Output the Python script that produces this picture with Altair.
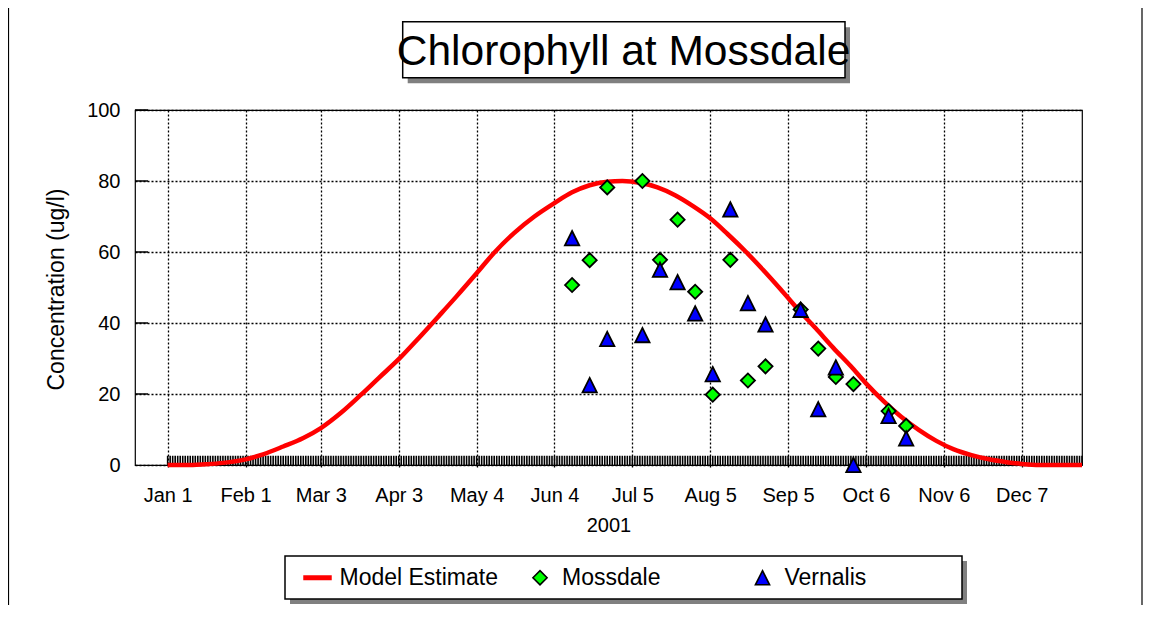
import altair as alt
import pandas as pd

FONT = "Liberation Sans"

# ---- data ----
sample_dates = ["2001-06-11", "2001-06-18", "2001-06-25", "2001-07-09", "2001-07-16",
                "2001-07-23", "2001-07-30", "2001-08-06", "2001-08-13", "2001-08-20",
                "2001-08-27", "2001-09-10", "2001-09-17", "2001-09-24", "2001-10-01",
                "2001-10-15", "2001-10-22"]
mossdale = [50.7, 57.7, 78.2, 80.0, 57.8, 69.1, 48.8, 19.8, 57.8, 23.8,
            27.8, 43.8, 32.8, 24.8, 22.8, 15.2, 11.0]
vernalis = [63.9, 22.5, 35.5, 36.6, 55.0, 51.5, 42.7, 25.6, 72.0, 45.6,
            39.6, 43.7, 15.7, 27.5, 0.0, 13.8, 7.5]

# model estimate (day of year, ug/l)
model_days = [0, 10, 15, 22, 31, 38, 46, 54, 61, 69, 77, 84, 92, 100, 108, 115, 123,
              130, 138, 146, 154, 161, 168, 175, 181, 188, 195, 202, 209, 216, 223,
              230, 237, 244, 251, 258, 265, 272, 278, 285, 292, 299, 306, 313, 320,
              327, 334, 340, 347, 364]
model_values = [0, 0, 0.2, 0.6, 1.6, 3.0, 5.2, 7.6, 10.4, 14.7, 19.8, 24.5, 29.8, 35.8,
                42.0, 47.5, 54.0, 59.8, 65.4, 70.0, 73.8, 76.8, 78.8, 79.8, 80.0, 79.5,
                78.2, 76.0, 73.0, 69.5, 65.0, 60.2, 55.0, 49.5, 43.8, 38.5, 33.0, 27.8,
                23.0, 18.0, 13.6, 9.9, 6.8, 4.4, 2.8, 1.6, 0.8, 0.3, 0, 0]

tick_days = [0, 31, 61, 92, 123, 154, 185, 216, 247, 278, 309, 340]
tick_labels = ["Jan 1", "Feb 1", "Mar 3", "Apr 3", "May 4", "Jun 4", "Jul 5",
               "Aug 5", "Sep 5", "Oct 6", "Nov 6", "Dec 7"]
y_ticks = [0, 20, 40, 60, 80, 100]

series_names = ["Model Estimate", "Mossdale", "Vernalis"]
series_fill = ["#ff0000", "#00ff00", "#0000ff"]
series_stroke = ["#ff0000", "#000000", "#000000"]
series_shape = ["M-1.9,-0.25H1.9V0.25H-1.9Z", "diamond", "M0,-1L1,1L-1,1Z"]

# ---- frames ----
day_of_year = list((pd.to_datetime(sample_dates) - pd.Timestamp("2001-01-01")).days)
model_df = pd.DataFrame({"day": model_days, "value": model_values})
moss_df = pd.DataFrame({"day": day_of_year, "value": mossdale, "series": "Mossdale"})
vern_df = pd.DataFrame({"day": day_of_year, "value": vernalis, "series": "Vernalis"})
daily_df = pd.DataFrame({"day": list(range(0, 365))})
daily_df["value"] = 0.0
daily_df["top"] = 2.6
ytick_df = pd.DataFrame({"value": y_ticks[1:]})
one = pd.DataFrame({"k": [0]})

days_js = "[" + ",".join(str(d) for d in tick_days) + "]"
labs_js = "[" + ",".join("'" + s + "'" for s in tick_labels) + "]"

x_scale = alt.Scale(domain=[-13, 364], nice=False, zero=False)
y_scale = alt.Scale(domain=[0, 100], nice=False)

x_axis = alt.Axis(values=tick_days, labelExpr=labs_js + "[indexof(" + days_js + ", datum.value)]",
                  title="2001", grid=True, gridColor="black", gridDash=[2, 2], gridWidth=1.3,
                  gridOpacity=1, domain=False, ticks=True, tickSize=4, tickColor="black",
                  tickDash=[2, 2], tickWidth=1.3, labelPadding=16.5, labelFontSize=20,
                  labelFont=FONT, labelColor="black", titleFont=FONT, titleFontSize=20,
                  titleFontWeight="normal", titleColor="black", titleY=66.5,
                  titleBaseline="alphabetic")
y_axis = alt.Axis(values=y_ticks, title="Concentration (ug/l)", grid=True, gridColor="black",
                  gridDash=[2, 2], gridWidth=1.3, gridOpacity=1, domain=False, ticks=False,
                  labelPadding=15, labelFontSize=20, labelFont=FONT, labelColor="black",
                  titleFont=FONT, titleFontSize=23, titleFontWeight="normal",
                  titleColor="black", titleX=-78.5, titleY=179, titleAngle=270,
                  titleBaseline="middle", titleAlign="center")

X = alt.X("day:Q", scale=x_scale, axis=x_axis)
Y = alt.Y("value:Q", scale=y_scale, axis=y_axis)

legend = alt.Legend(title=None, orient="none", legendX=171, legendY=456,
                    direction="horizontal", columns=3, gridAlign="all", columnPadding=29.5,
                    symbolSize=200, symbolStrokeWidth=1.6, symbolOpacity=1,
                    labelFontSize=23, labelFont=FONT, labelColor="black", labelOffset=10.5,
                    padding=0)
fill_enc = alt.Fill("series:N", scale=alt.Scale(domain=series_names, range=series_fill), legend=legend)
stroke_enc = alt.Stroke("series:N", scale=alt.Scale(domain=series_names, range=series_stroke), legend=legend)
shape_enc = alt.Shape("series:N", scale=alt.Scale(domain=series_names, range=series_shape), legend=legend)

daily_ticks = alt.Chart(daily_df).mark_rule(color="black", strokeWidth=1.6).encode(
    x=X, y=Y, y2="top:Q")
inner_ticks = alt.Chart(ytick_df).mark_rule(color="black", strokeWidth=1.5).encode(
    y=Y, x=alt.value(0), x2=alt.value(13))
model = alt.Chart(model_df).mark_line(color="#ff0000", strokeWidth=4.5,
                                      interpolate="monotone").encode(x=X, y=Y)
moss = alt.Chart(moss_df).mark_point(filled=True, size=200, strokeWidth=1.8, opacity=1).encode(
    x=X, y=Y, fill=fill_enc, stroke=stroke_enc, shape=shape_enc)
vern = alt.Chart(vern_df).mark_point(filled=True, size=205, strokeWidth=1.8, opacity=1).encode(
    x=X, y=Y, fill=fill_enc, stroke=stroke_enc, shape=shape_enc)

# title box with shadow
title_shadow = alt.Chart(one).mark_rect(color="#808080").encode(
    x=alt.value(272.7), x2=alt.value(715), y=alt.value(-82.7), y2=alt.value(-26.7))
title_box = alt.Chart(one).mark_rect(fill="white", stroke="black", strokeWidth=1.5).encode(
    x=alt.value(267.7), x2=alt.value(710), y=alt.value(-88.3), y2=alt.value(-32.3))
title_text = alt.Chart(one).mark_text(text="Chlorophyll at Mossdale", font=FONT, fontSize=42.5,
                                      align="center", baseline="alphabetic", color="black").encode(
    x=alt.value(488.5), y=alt.value(-45))

# legend box with shadow
legend_shadow = alt.Chart(one).mark_rect(color="#808080").encode(
    x=alt.value(155), x2=alt.value(832), y=alt.value(451), y2=alt.value(494))
legend_box = alt.Chart(one).mark_rect(fill="white", stroke="black", strokeWidth=1.5).encode(
    x=alt.value(150), x2=alt.value(827), y=alt.value(446), y2=alt.value(489))

# outer chart border
border = alt.Chart(pd.DataFrame({"px": [-126.5, 1007]})).mark_rule(color="black", strokeWidth=1.2).encode(
    x=alt.X("px:Q", scale=None), y=alt.value(-102), y2=alt.value(495))

chart = alt.layer(
    border, title_shadow, title_box, title_text, legend_shadow, legend_box,
    daily_ticks, inner_ticks, model, moss, vern
).properties(
    width=947, height=355,
    padding={"left": 127, "top": 102, "right": 61, "bottom": 140},
    autosize=alt.AutoSizeParams(type="none"),
    background="white",
).configure_view(stroke="black", strokeWidth=1.2)

chart.save("out.html", embed_options={"renderer": "svg", "actions": False})
